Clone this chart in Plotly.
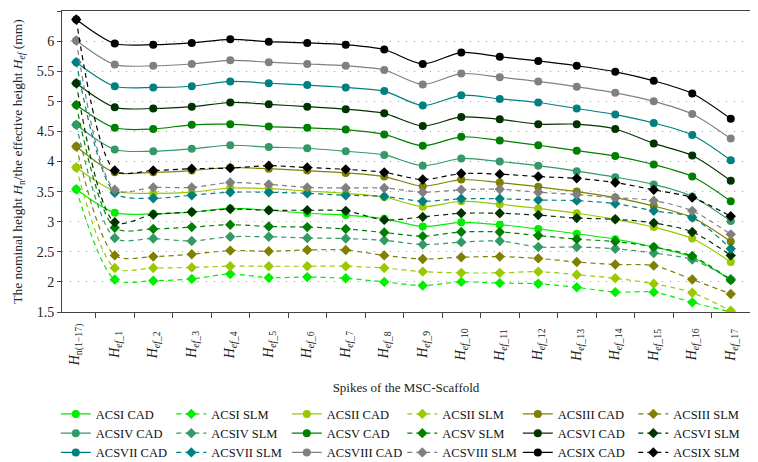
import plotly.graph_objects as go

categories = ["Hn", "ef_1", "ef_2", "ef_3", "ef_4", "ef_5", "ef_6", "ef_7", "ef_8",
              "ef_9", "ef_10", "ef_11", "ef_12", "ef_13", "ef_14", "ef_15", "ef_16", "ef_17"]
tick_labels = ["<i>H</i><sub>n(1\u221217)</sub>"] + [
    "<i>H</i><sub><i>ef</i>_%d</sub>" % i for i in range(1, 18)]

series_names = ["ACSI", "ACSII", "ACSIII", "ACSIV", "ACSV", "ACSVI", "ACSVII", "ACSVIII", "ACSIX"]

cad_I    = [3.54, 3.15, 3.13, 3.16, 3.22, 3.19, 3.14, 3.11, 3.05, 2.92, 2.99, 2.95, 2.88, 2.80, 2.71, 2.58, 2.41, 2.03]
cad_II   = [3.90, 3.51, 3.47, 3.49, 3.56, 3.55, 3.51, 3.47, 3.41, 3.25, 3.34, 3.29, 3.22, 3.14, 3.04, 2.91, 2.72, 2.33]
cad_III  = [4.25, 3.82, 3.82, 3.85, 3.90, 3.88, 3.85, 3.81, 3.75, 3.59, 3.70, 3.65, 3.58, 3.50, 3.40, 3.26, 3.07, 2.67]
cad_IV   = [4.61, 4.20, 4.17, 4.21, 4.27, 4.24, 4.22, 4.17, 4.11, 3.93, 4.05, 4.00, 3.93, 3.84, 3.74, 3.62, 3.42, 3.01]
cad_V    = [4.94, 4.56, 4.54, 4.61, 4.62, 4.58, 4.56, 4.53, 4.45, 4.26, 4.41, 4.35, 4.27, 4.18, 4.09, 3.95, 3.75, 3.34]
cad_VI   = [5.30, 4.90, 4.88, 4.91, 4.98, 4.95, 4.91, 4.87, 4.80, 4.59, 4.74, 4.70, 4.62, 4.62, 4.54, 4.30, 4.10, 3.68]
cad_VII  = [5.65, 5.25, 5.23, 5.25, 5.33, 5.30, 5.27, 5.23, 5.17, 4.93, 5.10, 5.04, 4.98, 4.88, 4.78, 4.64, 4.44, 4.02]
cad_VIII = [6.01, 5.61, 5.59, 5.62, 5.68, 5.65, 5.62, 5.59, 5.52, 5.28, 5.46, 5.40, 5.33, 5.24, 5.14, 5.00, 4.79, 4.38]
cad_IX   = [6.36, 5.96, 5.94, 5.97, 6.03, 5.99, 5.97, 5.94, 5.86, 5.62, 5.81, 5.74, 5.67, 5.59, 5.49, 5.34, 5.13, 4.71]

slm_I    = [3.54, 2.04, 2.02, 2.05, 2.13, 2.07, 2.08, 2.06, 2.00, 1.94, 2.00, 1.98, 1.97, 1.91, 1.83, 1.83, 1.66, 1.50]
slm_II   = [3.90, 2.23, 2.23, 2.24, 2.26, 2.26, 2.26, 2.26, 2.23, 2.17, 2.15, 2.15, 2.17, 2.12, 2.06, 1.97, 1.82, 1.52]
slm_III  = [4.25, 2.44, 2.42, 2.46, 2.52, 2.51, 2.53, 2.53, 2.44, 2.38, 2.41, 2.42, 2.39, 2.33, 2.29, 2.27, 2.04, 1.80]
slm_IV   = [4.61, 2.73, 2.72, 2.68, 2.75, 2.75, 2.73, 2.72, 2.69, 2.62, 2.66, 2.68, 2.58, 2.58, 2.55, 2.48, 2.37, 2.05]
slm_V    = [4.94, 2.90, 2.88, 2.91, 2.95, 2.92, 2.91, 2.88, 2.82, 2.76, 2.83, 2.83, 2.77, 2.71, 2.67, 2.58, 2.43, 2.03]
slm_VI   = [5.30, 2.99, 3.12, 3.16, 3.21, 3.19, 3.19, 3.18, 3.03, 3.08, 3.14, 3.14, 3.11, 3.06, 3.04, 2.98, 2.83, 2.44]
slm_VII  = [5.65, 3.48, 3.39, 3.44, 3.49, 3.49, 3.47, 3.44, 3.42, 3.34, 3.38, 3.38, 3.36, 3.35, 3.30, 3.18, 3.07, 2.55]
slm_VIII = [6.01, 3.53, 3.57, 3.57, 3.65, 3.62, 3.57, 3.56, 3.56, 3.49, 3.53, 3.54, 3.49, 3.45, 3.40, 3.35, 3.18, 2.79]
slm_IX   = [6.36, 3.85, 3.85, 3.88, 3.89, 3.93, 3.90, 3.87, 3.82, 3.70, 3.80, 3.79, 3.75, 3.72, 3.65, 3.53, 3.40, 3.09]

cad_values = [cad_I, cad_II, cad_III, cad_IV, cad_V, cad_VI, cad_VII, cad_VIII, cad_IX]
slm_values = [slm_I, slm_II, slm_III, slm_IV, slm_V, slm_VI, slm_VII, slm_VIII, slm_IX]
colors = ["#00EE00", "#9BC800", "#808000", "#339966", "#008000", "#003300", "#008080", "#808080", "#000000"]

y_ticks = [1.5, 2, 2.5, 3, 3.5, 4, 4.5, 5, 5.5, 6, 6.5]

FONT = "Liberation Serif"
xpos = list(range(len(categories)))

fig = go.Figure()
for name, cad, slm, col in zip(series_names, cad_values, slm_values, colors):
    fig.add_trace(go.Scatter(
        x=xpos, y=cad, name=name + " CAD", mode="lines+markers",
        line=dict(color=col, width=1.2, shape="spline", smoothing=0.8),
        marker=dict(symbol="circle", size=8, color=col)))
    fig.add_trace(go.Scatter(
        x=xpos, y=slm, name=name + " SLM", mode="lines+markers",
        line=dict(color=col, width=1.2, dash="5px,4px", shape="spline", smoothing=0.8),
        marker=dict(symbol="diamond", size=8, color=col)))

# category labels, rotated and centred under each category
for xi, lab in zip(xpos, tick_labels):
    fig.add_annotation(x=xi, xref="x", y=-0.11, yref="paper", text=lab,
                       textangle=-90, showarrow=False, xanchor="center", yanchor="middle",
                       font=dict(family=FONT, size=14, color="#222"))

fig.update_layout(
    width=750, height=462,
    margin=dict(l=54, r=8, t=3, b=158, autoexpand=False),
    paper_bgcolor="white", plot_bgcolor="white",
    font=dict(family=FONT, size=13, color="#222"),
    showlegend=True,
    legend=dict(orientation="h", x=-0.009, xanchor="left", y=-0.29, yanchor="top",
                entrywidth=70.5, entrywidthmode="pixels", tracegroupgap=0,
                font=dict(family=FONT, size=12.5, color="#111"),
                itemwidth=30, bgcolor="rgba(0,0,0,0)"),
)
fig.update_xaxes(
    range=[-0.37, 17.5], tickmode="array", tickvals=xpos, showticklabels=False,
    ticks="", automargin=False,
    showgrid=False, zeroline=False,
    showline=True, linecolor="#444", linewidth=1, mirror=True,
    minor=dict(tickvals=[i + 0.5 for i in range(17)], ticks="outside", ticklen=5,
               tickcolor="#444", showgrid=False),
    title=dict(text="Spikes of the MSC-Scaffold", font=dict(family=FONT, size=13, color="#222"),
               standoff=70),
)
fig.update_yaxes(
    range=[1.5, 6.5], tickmode="array", tickvals=y_ticks, automargin=False,
    ticks="outside", ticklen=4, tickcolor="#444",
    tickfont=dict(family=FONT, size=14, color="#222"),
    showgrid=True, gridcolor="#999", gridwidth=1, griddash="1px,7px",
    zeroline=False, showline=True, linecolor="#444", linewidth=1, mirror=True,
    title=dict(text="The nominal height <i>H</i><sub>n</sub>/the effective height <i>H</i><sub><i>ef</i></sub> (mm)",
               font=dict(family=FONT, size=13.5, color="#222"), standoff=10),
)

fig.write_html("out.html")
